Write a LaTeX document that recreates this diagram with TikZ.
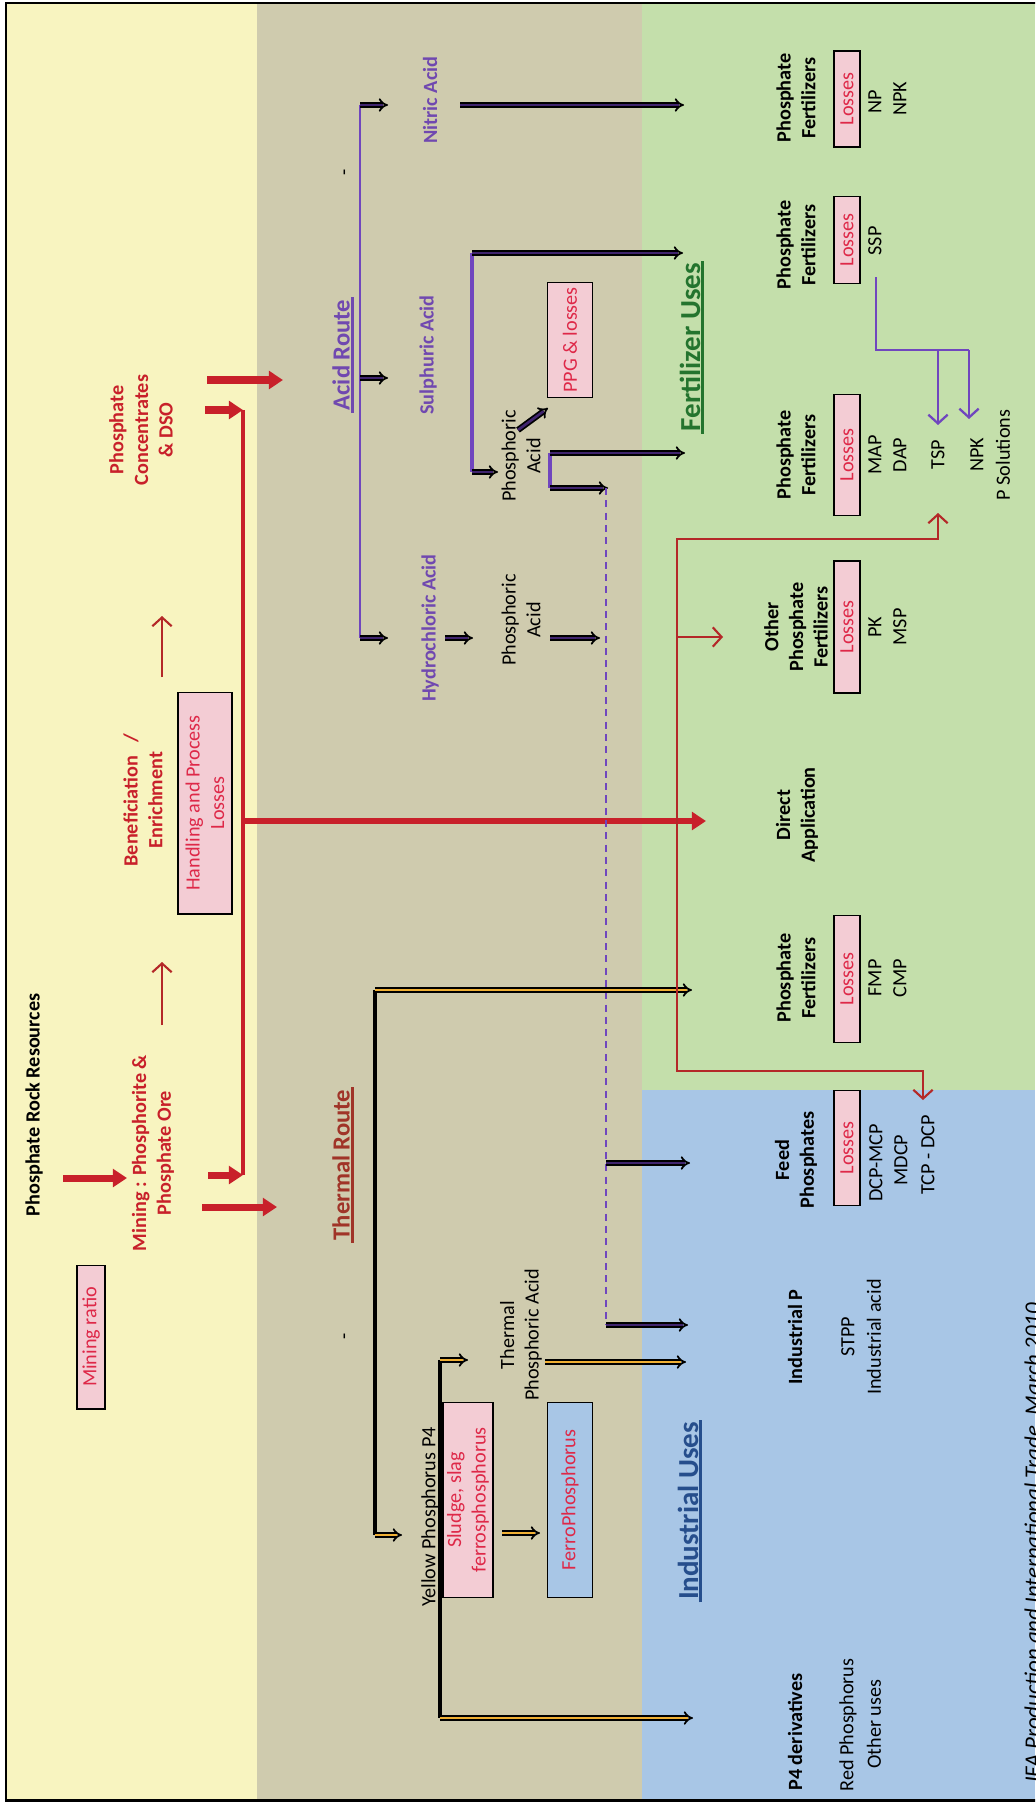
\documentclass[tikz,border=0pt]{standalone}
\usepackage{fontspec}
\setmainfont{Carlito}
\usetikzlibrary{arrows.meta}

\definecolor{bandyel}{RGB}{248,244,192}
\definecolor{bandtan}{RGB}{207,203,174}
\definecolor{bandgrn}{RGB}{196,223,171}
\definecolor{bandblu}{RGB}{168,198,230}
\definecolor{boxpink}{RGB}{243,204,212}
\definecolor{txtred}{RGB}{200,32,42}
\definecolor{boxred}{RGB}{222,40,72}
\definecolor{txtpur}{RGB}{112,72,176}
\definecolor{linepur}{RGB}{112,70,190}
\definecolor{darkpur}{RGB}{64,36,110}
\definecolor{arrorg}{RGB}{240,176,52}
\definecolor{txtgrn}{RGB}{36,116,46}
\definecolor{txtblu}{RGB}{38,78,140}
\definecolor{txtbrn}{RGB}{160,52,40}
\definecolor{thinred}{RGB}{180,40,40}

\begin{document}
\begin{tikzpicture}[x=0.02cm,y=-0.02cm,
  lbl/.style={rotate=90,align=center,inner sep=1pt,font=\fontsize{11.5}{14}\selectfont\bfseries},
  normtxt/.style={lbl,font=\fontsize{11.5}{14}\selectfont},
  redlbl/.style={lbl,text=txtred},
  purlbl/.style={lbl,text=txtpur},
  routehead/.style={rotate=90,inner sep=1.2pt,font=\fontsize{14}{16}\selectfont\bfseries},
  usehead/.style={routehead,font=\fontsize{16.5}{19}\selectfont\bfseries},
  pinkbox/.style={normtxt,draw=black,line width=0.6pt,fill=boxpink,text=boxred,inner sep=0pt},
  lossbox/.style={pinkbox,minimum height=0.52cm},
  bigred/.style={txtred,line width=4pt,-{Triangle[length=8pt,width=10pt]}},
  trunkred/.style={txtred,line width=2.8pt},
  thinarr/.style={thinred,line width=1.2pt},
  barb/.style={-{Straight Barb[length=5pt,width=11pt]}},
  parr/.style={draw=black,double=darkpur,double distance=1.5pt,line width=1pt,-Implies},
  oarr/.style={draw=black,double=arrorg,double distance=1.5pt,line width=1pt,-Implies}]
\useasboundingbox (0,0) rectangle (1035,1805);
\clip (0,0) rectangle (1035,1805);
\fill[bandyel] (7,3) rectangle (257,1800);
\fill[bandtan] (257,3) rectangle (642,1800);
\fill[bandgrn] (642,3) rectangle (1035,1090);
\fill[bandblu] (642,1090) rectangle (1035,1800);
\draw[line width=1.7pt] (1040,3) -- (6,3) -- (6,1800) -- (1040,1800);

\node[lbl] at (34,1105) (rock) {Phosphate Rock Resources};
\node[redlbl] at (153,1153) (mining) {Mining : Phosphorite \&\\Phosphate Ore};
\node[pinkbox,minimum width=2.88cm,minimum height=0.56cm] at (91,1337) (ratio) {Mining ratio};
\node[redlbl] at (143,800) (benef) {Beneficiation\ \ \ /\\Enrichment};
\node[pinkbox,minimum width=4.44cm,minimum height=1.08cm] at (205,803) (handling) {Handling and Process\\Losses};
\node[redlbl] at (141,430) (conc) {Phosphate\\Concentrates\\\& DSO};

\coordinate (rockout) at (63,1178);
\coordinate (minein) at (127,1178);
\coordinate (mineout) at (208,1175);
\coordinate (mineout2) at (202,1207);
\coordinate (thermin) at (277,1207);
\coordinate (concout) at (205,410);
\coordinate (concout2) at (207,380);
\coordinate (acidin) at (283,380);
\coordinate (redtop) at (243,410);
\coordinate (redbot) at (243,1175);
\coordinate (redmid) at (243,821);
\coordinate (directin) at (706,821);
\coordinate (step1a) at (162,1025);
\coordinate (step1b) at (162,962);
\coordinate (step2a) at (162,677);
\coordinate (step2b) at (162,616);
\draw[bigred] (rockout) -- (minein);
\draw[trunkred] (redtop) -- (redbot);
\draw[bigred] (mineout) -- (redbot);
\draw[bigred] (mineout2) -- (thermin);
\draw[bigred] (concout) -- (redtop);
\draw[bigred] (concout2) -- (acidin);
\draw[bigred,line width=3pt] (redmid) -- (directin);
\draw[thinarr,barb] (step1a) -- (step1b);
\draw[thinarr,barb] (step2a) -- (step2b);

\node[routehead,text=txtpur] at (341,355) (acid) {Acid Route};
\node[normtxt] at (347,172) (tick1) {-};
\node[purlbl] at (430,100) (nitric) {Nitric Acid};
\node[purlbl] at (428,355) (sulph) {Sulphuric Acid};
\node[purlbl] at (430,628) (hcl) {Hydrochloric Acid};
\node[normtxt] at (521,456) (phos2) {Phosphoric\\Acid};
\node[normtxt] at (521,620) (phos1) {Phosphoric\\Acid};
\node[pinkbox,minimum width=2.3cm,minimum height=0.9cm] at (570,340) (ppg) {PPG \& losses};

\coordinate (ptop) at (360,105);
\coordinate (pmid) at (360,378);
\coordinate (pbot) at (360,638);
\coordinate (nitin) at (388,105);
\coordinate (sulin) at (388,378);
\coordinate (hclin) at (388,638);
\coordinate (nitout) at (460,105);
\coordinate (npin) at (684,105);
\coordinate (sultop) at (472,253);
\coordinate (sulbot) at (472,472);
\coordinate (sspin) at (683,253);
\coordinate (phos2in) at (498,472);
\coordinate (hclout) at (445,638);
\coordinate (phos1in) at (473,638);
\coordinate (phos1out) at (550,638);
\coordinate (dash1) at (600,638);
\coordinate (ppgout) at (518,430);
\coordinate (ppgin) at (548,408);
\coordinate (p2top) at (550,453);
\coordinate (p2bot) at (550,488);
\coordinate (mapin) at (685,453);
\coordinate (dashin) at (608,488);
\coordinate (dashtop) at (606,488);
\coordinate (dashbot) at (606,1325);
\coordinate (dashfeed) at (606,1163);
\coordinate (feedin) at (690,1163);
\coordinate (indpin) at (688,1325);
\draw[linepur,line width=1.3pt] (ptop) -- (pbot);
\draw[parr] (ptop) -- (nitin);
\draw[parr] (pmid) -- (sulin);
\draw[parr] (pbot) -- (hclin);
\draw[parr] (hclout) -- (phos1in);
\draw[parr] (phos1out) -- (dash1);
\draw[parr] (nitout) -- (npin);
\draw[linepur,line width=2.8pt] (sultop) -- (sulbot);
\draw[parr] (sultop) -- (sspin);
\draw[parr] (sulbot) -- (phos2in);
\draw[parr] (ppgout) -- (ppgin);
\draw[linepur,line width=2.2pt] (p2top) -- (p2bot);
\draw[parr] (p2top) -- (mapin);
\draw[parr] (p2bot) -- (dashin);
\draw[linepur,line width=1.6pt,dash pattern=on 4pt off 3pt] (dashtop) -- (dashbot);
\draw[parr] (dashfeed) -- (feedin);
\draw[parr] (dashbot) -- (indpin);

\node[routehead,text=txtbrn] at (341,1165) (thermal) {Thermal Route};
\node[normtxt] at (347,1336) (tick2) {-};
\node[normtxt] at (430,1517) (yellowp) {Yellow Phosphorus P4};
\node[pinkbox,minimum width=3.9cm,minimum height=1cm] at (468,1500) (sludge) {Sludge, slag\\ferrosphosphorus};
\node[pinkbox,fill=bandblu,minimum width=3.9cm,minimum height=0.9cm] at (570,1500) (ferro) {FerroPhosphorus};
\node[normtxt] at (521,1335) (tpa) {Thermal\\Phosphoric Acid};

\coordinate (ttop) at (375,990);
\coordinate (tbot) at (375,1535);
\coordinate (fmpin) at (692,990);
\coordinate (ypin) at (402,1535);
\coordinate (ytop) at (440,1360);
\coordinate (ybot) at (440,1718);
\coordinate (tpain) at (468,1360);
\coordinate (p4in) at (693,1718);
\coordinate (sludgeout) at (502,1533);
\coordinate (ferroin) at (540,1533);
\coordinate (tpaout) at (545,1362);
\coordinate (indpin2) at (686,1362);
\draw[line width=1.9pt] (ttop) -- (tbot);
\draw[oarr] (ttop) -- (fmpin);
\draw[oarr] (tbot) -- (ypin);
\draw[line width=1.9pt] (ytop) -- (ybot);
\draw[oarr] (ytop) -- (tpain);
\draw[oarr] (ybot) -- (p4in);
\draw[oarr] (sludgeout) -- (ferroin);
\draw[oarr] (tpaout) -- (indpin2);

\node[usehead,text=txtgrn] at (690,347) (fertuse) {Fertilizer Uses};
\node[lbl] at (796,98) (pf1) {Phosphate\\Fertilizers};
\node[lossbox,minimum width=1.92cm] at (847,99) (loss1) {Losses};
\node[normtxt] at (875,102) (np) {NP};
\node[normtxt] at (900,99) (npk1) {NPK};
\node[lbl] at (796,245) (pf2) {Phosphate\\Fertilizers};
\node[lossbox,minimum width=1.74cm] at (847,240) (loss2) {Losses};
\node[normtxt] at (875,241) (ssp) {SSP};
\node[lbl] at (796,455) (pf3) {Phosphate\\Fertilizers};
\node[lossbox,minimum width=2.42cm] at (847,455) (loss3) {Losses};
\node[normtxt] at (875,455) (mapl) {MAP};
\node[normtxt] at (900,455) (dap) {DAP};
\node[normtxt] at (938,455) (tsp) {TSP};
\node[normtxt] at (977,455) (npk2) {NPK};
\node[normtxt] at (1003,455) (psol) {P Solutions};
\node[lbl] at (796,627) (pf4) {Other\\Phosphate\\Fertilizers};
\node[lossbox,minimum width=2.64cm] at (847,627) (loss4) {Losses};
\node[normtxt] at (875,627) (pk) {PK};
\node[normtxt] at (900,627) (msp) {MSP};
\node[lbl] at (797,815) (direct) {Direct\\Application};
\node[lbl] at (796,978) (pf5) {Phosphate\\Fertilizers};
\node[lossbox,minimum width=2.54cm] at (847,979) (loss5) {Losses};
\node[normtxt] at (875,978) (fmp) {FMP};
\node[normtxt] at (900,978) (cmp) {CMP};

\coordinate (sspout) at (876,277);
\coordinate (sspbend) at (876,350);
\coordinate (tspfork) at (938,350);
\coordinate (npkfork) at (969,350);
\coordinate (tspin) at (938,425);
\coordinate (npkin) at (969,419);
\draw[linepur,line width=1.3pt] (sspout) -- (sspbend) -- (npkfork);
\draw[linepur,line width=1.3pt,barb] (tspfork) -- (tspin);
\draw[linepur,line width=1.3pt,barb] (npkfork) -- (npkin);

\coordinate (rtsp) at (938,513);
\coordinate (rtspc) at (938,539);
\coordinate (rtop) at (677,539);
\coordinate (rother) at (677,637);
\coordinate (otherin) at (723,637);
\coordinate (rbot) at (677,1071);
\coordinate (rtcpc) at (923,1071);
\coordinate (rtcp) at (923,1100);
\draw[thinarr,{Straight Barb[length=5pt,width=11pt]}-{Straight Barb[length=5pt,width=11pt]}] (rtsp) -- (rtspc) -- (rtop) -- (rbot) -- (rtcpc) -- (rtcp);
\draw[thinarr,barb] (rother) -- (otherin);

\node[usehead,text=txtblu] at (688,1511) (induse) {Industrial Uses};
\node[lbl] at (796,1160) (feed) {Feed\\Phosphates};
\node[lossbox,minimum width=2.3cm] at (847,1148) (loss6) {Losses};
\node[normtxt] at (876,1163) (dcp) {DCP-MCP};
\node[normtxt] at (901,1160) (mdcp) {MDCP};
\node[normtxt] at (928,1155) (tcp) {TCP - DCP};
\node[lbl] at (795,1337) (indp) {Industrial P};
\node[normtxt] at (848,1337) (stpp) {STPP};
\node[normtxt] at (874,1337) (indacid) {Industrial acid};
\node[lbl] at (795,1732) (p4d) {P4 derivatives};
\node[normtxt] at (848,1725) (redp) {Red Phosphorus};
\node[normtxt] at (874,1724) (other) {Other uses};
\node[normtxt,font=\fontsize{13}{15}\selectfont\itshape,anchor=west] at (1034,1785) (source) {IFA Production and International Trade, March 2010};

\draw[txtpur,line width=1.6pt] (acid.south west) -- (acid.south east);
\draw[txtbrn,line width=1.6pt] (thermal.south west) -- (thermal.south east);
\draw[txtgrn,line width=1.9pt] (fertuse.south west) -- (fertuse.south east);
\draw[txtblu,line width=1.9pt] (induse.south west) -- (induse.south east);
\end{tikzpicture}
\end{document}
